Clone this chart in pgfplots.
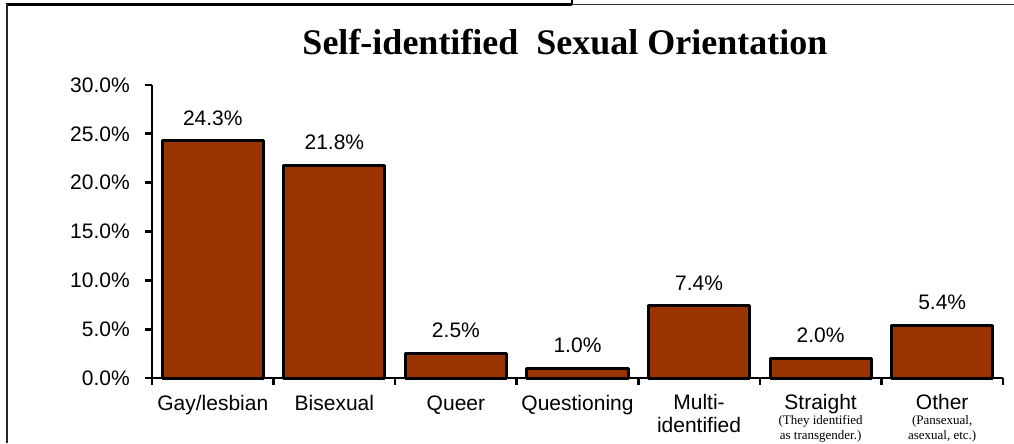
\documentclass[border=0pt]{standalone}
\usepackage{pgfplots}
\pgfplotsset{compat=1.18}
\usepackage{fontspec}
\setmainfont{Liberation Sans}
\newfontfamily\serif{Liberation Serif}
\definecolor{barbrown}{HTML}{993300}
\newcommand{\note}[1]{{\serif\fontsize{9.75}{11}\selectfont #1}}
\begin{document}
\begin{tikzpicture}[x=0.75pt,y=0.75pt]
\path[use as bounding box] (0,0) rectangle (1014,443);
% outer frame
\draw[line width=1.6pt, black] (6,438.5) -- (572,438.5);
\draw[line width=0.9pt, black] (572,443) -- (572,438.5);
\draw[line width=1.2pt, black!80] (572,438.5) -- (1014,438.5);
\draw[line width=1.4pt, black!85] (7,438.5) -- (7,0);
\begin{axis}[
  at={(114pt,48.75pt)}, anchor=south west,
  scale only axis, width=638.25pt, height=219.75pt,
  xmin=-0.5, xmax=6.5, ymin=0, ymax=30,
  axis x line*=bottom, axis y line*=left,
  axis line style={line width=2pt, -},
  ytick={0,5,...,30},
  yticklabel={\pgfmathprintnumber[fixed,fixed zerofill,precision=1]{\tick}\%},
  xtick={0,...,6},
  xticklabels={Gay/lesbian, Bisexual, Queer, Questioning, {Multi-\\[-0.75pt]identified}, {Straight\\[-6.75pt]\note{(They identified}\\[-6.75pt]\note{as transgender.)}}, {Other\\[-6.75pt]\note{(Pansexual,}\\[-6.75pt]\note{asexual, etc.)}}},
  minor xtick={-0.5,0.5,...,6.5},
  tick align=outside,
  major tick length=5.25pt, minor tick length=5.25pt,
  major x tick style={draw=none},
  minor x tick style={line width=2pt, black},
  major y tick style={line width=2pt, black},
  tick label style={font=\fontsize{15.75}{18}\selectfont},
  /pgf/number format/assume math mode=true,
  xticklabel style={align=center, anchor=north, inner sep=0pt, yshift=-6.6pt, execute at begin node=\strut},
  yticklabel style={anchor=east, inner sep=0pt, xshift=-11.25pt},
  ybar, bar width=75.75pt,
  nodes near coords={\pgfmathprintnumber[fixed,fixed zerofill,precision=1]{\pgfplotspointmeta}\%},
  nodes near coords style={anchor=base, inner sep=0pt, yshift=11.7pt, font=\fontsize{15.75}{18}\selectfont, black},
  title={Self-identified\ \ Sexual Orientation},
  title style={at={(0.4853,1.0751)}, anchor=base, inner sep=0pt, font=\serif\bfseries\fontsize{27}{32}\selectfont},
  clip=false,
]
\addplot[fill=barbrown, draw=black, line width=2.25pt, line join=round] coordinates {(0,24.3)(1,21.8)(2,2.5)(3,1.0)(4,7.4)(5,2.0)(6,5.4)};
\end{axis}
\end{tikzpicture}
\end{document}
